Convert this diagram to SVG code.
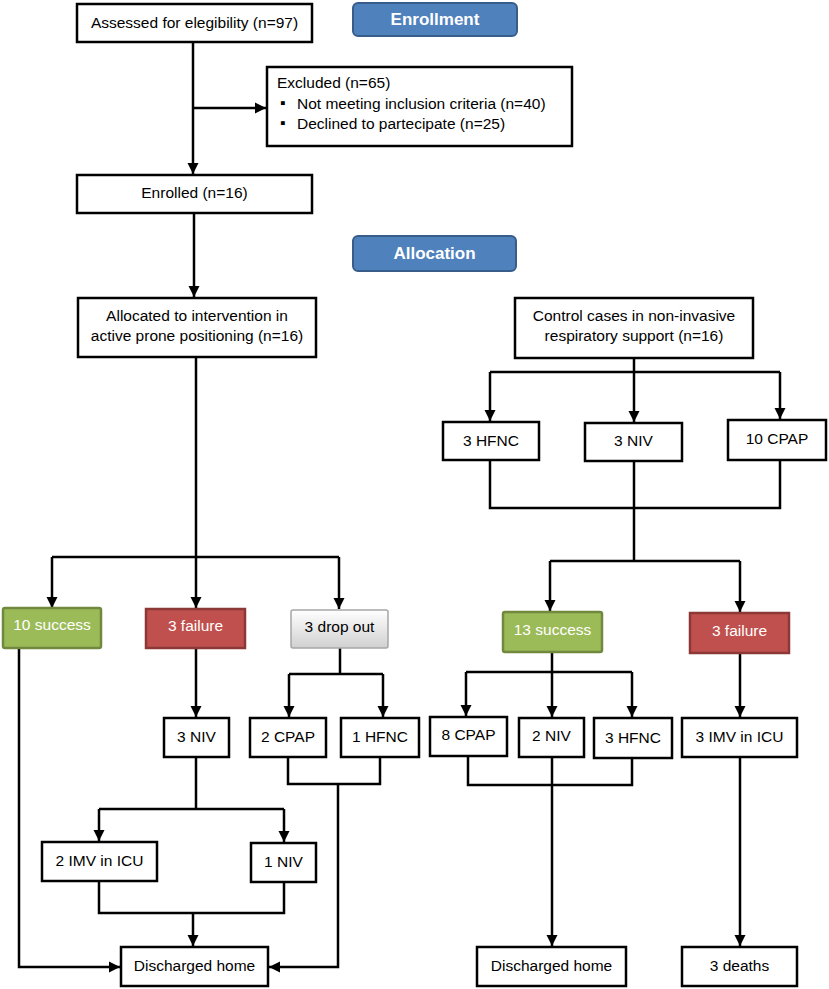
<svg xmlns="http://www.w3.org/2000/svg" width="829" height="989" viewBox="0 0 829 989">
<defs>
<style>
.box{fill:#fff;stroke:#000;stroke-width:2.5}
.t{font-family:"Liberation Sans",Arial,sans-serif;font-size:15.5px;fill:#000;text-anchor:middle}
.tl{font-family:"Liberation Sans",Arial,sans-serif;font-size:15.5px;fill:#000}
.tw{font-family:"Liberation Sans",Arial,sans-serif;font-size:15.5px;fill:#fff;text-anchor:middle}
.hb{font-family:"Liberation Sans",Arial,sans-serif;font-size:17px;font-weight:bold;fill:#fff;text-anchor:middle}
.head{fill:#4F81BD;stroke:#385D8A;stroke-width:2}
.green{fill:#9BBB59;stroke:#71893F;stroke-width:2.5}
.red{fill:#C0504D;stroke:#8C3836;stroke-width:2.5}
.gray{fill:url(#gg);stroke:#A6A6A6;stroke-width:1.5}
#conn path{fill:none;stroke:#000;stroke-width:2.5}
</style>
<linearGradient id="gg" x1="0" y1="0" x2="0" y2="1">
<stop offset="0" stop-color="#FFFFFF"/>
<stop offset="1" stop-color="#D0D0D0"/>
</linearGradient>
<marker id="arr" markerUnits="userSpaceOnUse" markerWidth="12" markerHeight="12" refX="11" refY="5.5" orient="auto" viewBox="0 0 12 11">
<path d="M0,0 L11,5.5 L0,11 z" fill="#000"/>
</marker>
</defs>
<rect width="829" height="989" fill="#fff"/>

<g id="conn">
<path d="M193,42 V174" marker-end="url(#arr)"/>
<path d="M193,108 H266" marker-end="url(#arr)"/>
<path d="M194,213 V297" marker-end="url(#arr)"/>
<path d="M196,357 V557"/>
<path d="M52,557 H339"/>
<path d="M52,557 V608" marker-end="url(#arr)"/>
<path d="M196,557 V608" marker-end="url(#arr)"/>
<path d="M339,557 V609" marker-end="url(#arr)"/>
<path d="M634,358 V372"/>
<path d="M490,372 H780"/>
<path d="M490,372 V421" marker-end="url(#arr)"/>
<path d="M634,372 V422" marker-end="url(#arr)"/>
<path d="M780,372 V419" marker-end="url(#arr)"/>
<path d="M490,460 V508 H780 V460"/>
<path d="M634,461 V561"/>
<path d="M550,561 H740"/>
<path d="M550,561 V611" marker-end="url(#arr)"/>
<path d="M740,561 V612" marker-end="url(#arr)"/>
<path d="M552,652 V672"/>
<path d="M466,672 H632"/>
<path d="M466,672 V716" marker-end="url(#arr)"/>
<path d="M552,672 V717" marker-end="url(#arr)"/>
<path d="M632,672 V717" marker-end="url(#arr)"/>
<path d="M468,756 V785 H632 V758"/>
<path d="M552,757 V946" marker-end="url(#arr)"/>
<path d="M740,653 V717" marker-end="url(#arr)"/>
<path d="M740,757 V946" marker-end="url(#arr)"/>
<path d="M19,648 V967 H120" marker-end="url(#arr)"/>
<path d="M196,648 V717" marker-end="url(#arr)"/>
<path d="M196,757 V809"/>
<path d="M99,809 H284"/>
<path d="M99,809 V841" marker-end="url(#arr)"/>
<path d="M284,809 V842" marker-end="url(#arr)"/>
<path d="M99,881 V913 H284 V882"/>
<path d="M193,913 V946" marker-end="url(#arr)"/>
<path d="M340,648 V674"/>
<path d="M289,674 H383"/>
<path d="M289,674 V717" marker-end="url(#arr)"/>
<path d="M383,674 V717" marker-end="url(#arr)"/>
<path d="M288,757 V784 H380 V757"/>
<path d="M338,784 V967 H269" marker-end="url(#arr)"/>
</g>

<g id="assessed"><rect class="box" x="77" y="4" width="235" height="38"/><text class="t" x="194.5" y="28">Assessed for elegibility (n=97)</text></g>
<g id="enrollment"><rect class="head" x="353" y="3" width="164" height="33" rx="5"/><text class="hb" x="435" y="25">Enrollment</text></g>
<g id="excluded"><rect class="box" x="267" y="67" width="305" height="79"/>
<text class="tl" x="277" y="88">Excluded (n=65)</text>
<text class="tl" x="280" y="108" font-size="11">▪</text><text class="tl" x="297" y="109">Not meeting inclusion criteria (n=40)</text>
<text class="tl" x="280" y="128" font-size="11">▪</text><text class="tl" x="297" y="129">Declined to partecipate (n=25)</text>
</g>
<g id="enrolled"><rect class="box" x="77" y="175" width="235" height="38"/><text class="t" x="194.5" y="198">Enrolled (n=16)</text></g>
<g id="allocation"><rect class="head" x="353" y="236" width="163" height="35" rx="5"/><text class="hb" x="434.5" y="259">Allocation</text></g>
<g id="allocated"><rect class="box" x="78" y="298" width="238" height="59"/><text class="t" x="197" y="321">Allocated to intervention in</text><text class="t" x="197" y="341">active prone positioning (n=16)</text></g>
<g id="control"><rect class="box" x="515" y="298" width="238" height="60"/><text class="t" x="634" y="321">Control cases in non-invasive</text><text class="t" x="634" y="341">respiratory support (n=16)</text></g>
<g id="c-hfnc"><rect class="box" x="443" y="422" width="96" height="38"/><text class="t" x="491" y="446">3 HFNC</text></g>
<g id="c-niv"><rect class="box" x="585" y="423" width="97" height="38"/><text class="t" x="633.5" y="446">3 NIV</text></g>
<g id="c-cpap"><rect class="box" x="728" y="420" width="98" height="40"/><text class="t" x="777" y="444">10 CPAP</text></g>

<g id="success-l"><rect class="green" x="3" y="608" width="98" height="40" rx="2"/><text class="tw" x="52" y="630">10 success</text></g>
<g id="failure-l"><rect class="red" x="146" y="609" width="99" height="39"/><text class="tw" x="195.5" y="631">3 failure</text></g>
<g id="dropout"><rect class="gray" x="291" y="610" width="97" height="38" rx="2"/><text class="t" x="339.5" y="632">3 drop out</text></g>
<g id="success-r"><rect class="green" x="503" y="612" width="99" height="40" rx="2"/><text class="tw" x="552.5" y="635">13 success</text></g>
<g id="failure-r"><rect class="red" x="690" y="613" width="99" height="40"/><text class="tw" x="739.5" y="636">3 failure</text></g>

<g id="l-niv"><rect class="box" x="164" y="718" width="65" height="39"/><text class="t" x="196.5" y="742">3 NIV</text></g>
<g id="l-cpap"><rect class="box" x="250" y="718" width="76" height="39"/><text class="t" x="288" y="742">2 CPAP</text></g>
<g id="l-hfnc"><rect class="box" x="341" y="718" width="78" height="39"/><text class="t" x="380" y="742">1 HFNC</text></g>
<g id="r-cpap"><rect class="box" x="430" y="717" width="77" height="39"/><text class="t" x="468.5" y="740">8 CPAP</text></g>
<g id="r-niv"><rect class="box" x="519" y="718" width="65" height="39"/><text class="t" x="551.5" y="741">2 NIV</text></g>
<g id="r-hfnc"><rect class="box" x="594" y="718" width="78" height="40"/><text class="t" x="633" y="743">3 HFNC</text></g>
<g id="r-imv"><rect class="box" x="682" y="718" width="115" height="39"/><text class="t" x="739.5" y="742">3 IMV in ICU</text></g>

<g id="l-imv"><rect class="box" x="42" y="842" width="115" height="39"/><text class="t" x="99.5" y="866">2 IMV in ICU</text></g>
<g id="l-niv2"><rect class="box" x="251" y="843" width="65" height="39"/><text class="t" x="283.5" y="867">1 NIV</text></g>

<g id="home-l"><rect class="box" x="121" y="947" width="147" height="39"/><text class="t" x="194.5" y="971">Discharged home</text></g>
<g id="home-r"><rect class="box" x="477" y="947" width="149" height="39"/><text class="t" x="551.5" y="971">Discharged home</text></g>
<g id="deaths"><rect class="box" x="682" y="947" width="115" height="39"/><text class="t" x="739.5" y="971">3 deaths</text></g>
</svg>
